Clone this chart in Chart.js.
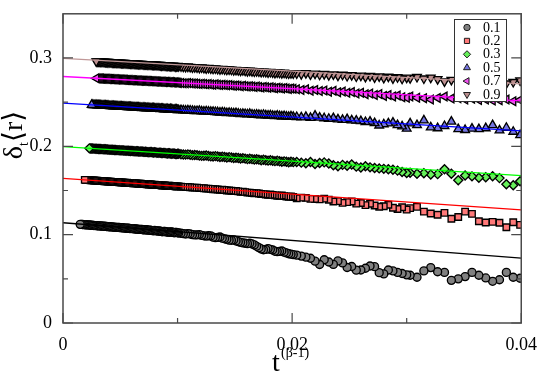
<!DOCTYPE html>
<html><head><meta charset="utf-8">
<script src="https://cdn.jsdelivr.net/npm/chart.js@4.4.0/dist/chart.umd.min.js"></script>
<style>html,body{margin:0;padding:0;background:#fff;}canvas{display:block;}</style>
</head><body>
<canvas id="c" width="540" height="373"></canvas>
<script>
// ---- data ----
const xs = [
0.0015,0.0016,0.0017,0.0018,0.0019,0.0020,0.0021,0.0022,0.0023,0.0024,0.0025,0.0026,0.0027,0.0028,0.0029,0.0030,
0.0031,0.0032,0.0033,0.0034,0.0035,0.0036,0.0037,0.0038,0.0039,0.0040,0.0041,0.0042,0.0043,0.0044,0.0045,0.0046,
0.0047,0.0048,0.0049,0.0050,0.0051,0.0052,0.0053,0.0054,0.0055,0.0056,0.0057,0.0058,0.0059,0.0060,0.0061,0.0062,
0.0063,0.0064,0.0065,0.0066,0.0067,0.0068,0.0069,0.0070,0.0071,0.0072,0.0073,0.0074,0.0075,0.0076,0.0077,0.0078,
0.0079,0.0080,0.0081,0.0082,0.0083,0.0084,0.0085,0.0086,0.0087,0.0088,0.0089,0.0090,0.0091,0.0092,0.0093,0.0094,
0.0095,0.0096,0.0097,0.0098,0.0099,0.0100,0.0101,
0.0103,0.0105,0.0107,0.0109,0.0111,0.0113,0.0115,0.0117,0.0119,0.0121,0.0123,0.0125,0.0127,0.0129,0.0131,0.0133,
0.0135,0.0137,0.0139,0.0141,0.0143,0.0145,0.0147,0.0149,0.0151,0.0153,0.0155,0.0157,0.0159,0.0161,0.0163,0.0165,
0.0167,0.0169,0.0171,0.0173,0.0175,0.0177,0.0179,0.0181,0.0183,0.0185,0.0187,0.0189,0.0191,0.0193,0.0195,0.0197,
0.0199,0.0201,
0.0204,0.0208,0.0212,0.0216,0.0220,0.0224,0.0228,0.0232,0.0236,0.0240,0.0244,0.0248,0.0252,0.0256,0.0260,0.0264,
0.0268,0.0272,0.0276,0.0280,0.0284,0.0288,0.0292,0.0296,0.0300,
0.0303,0.0309,0.0315,0.0321,0.0327,0.0333,0.0339,0.0345,0.0351,0.0357,0.0363,0.0369,0.0375,0.0381,0.0387,0.0393,0.0399
];
const seriesLabels = ['0.1','0.2','0.3','0.5','0.7','0.9'];
const startIdx = [0,4,8,10,14,14];
const y01 = [
0.1117,0.1116,0.1115,0.1114,0.1113,0.1111,0.1110,0.1110,0.1109,0.1107,0.1106,0.1105,0.1104,0.1103,0.1102,0.1101,
0.1100,0.1099,0.1098,0.1096,0.1095,0.1095,0.1094,0.1092,0.1091,0.1090,0.1089,0.1088,0.1087,0.1086,0.1085,0.1083,
0.1082,0.1082,0.1081,0.1079,0.1078,0.1078,0.1077,0.1074,0.1073,0.1073,0.1072,0.1070,0.1069,0.1069,0.1068,0.1065,
0.1064,0.1064,0.1063,0.1060,0.1059,0.1059,0.1058,0.1055,0.1054,0.1056,0.1055,0.1051,0.1050,0.1050,0.1049,0.1045,
0.1044,0.1047,0.1046,0.1042,0.1040,0.1041,0.1039,0.1035,0.1033,0.1037,0.1036,0.1032,0.1030,0.1029,0.1027,0.1030,
0.1031,0.1025,0.1022,0.1024,0.1025,0.1021,0.1019,
0.1016,0.1011,0.1008,0.1011,0.1007,0.1000,0.0997,0.0998,0.1001,0.0992,0.0987,0.0984,0.0988,0.0986,0.0972,0.0967,
0.0969,0.0973,0.0960,0.0953,0.0947,0.0938,0.0937,0.0941,0.0929,0.0921,0.0913,0.0907,0.0903,0.0898,0.0903,0.0895,
0.0884,0.0868,0.0853,0.0838,0.0829,0.0833,0.0842,0.0834,0.0826,0.0812,0.0808,0.0811,0.0815,0.0802,0.0793,0.0784,
0.0779,0.0774,
0.0768,0.0757,0.0745,0.0733,0.0700,0.0662,0.0716,0.0690,0.0663,0.0703,0.0680,0.0628,0.0640,0.0598,0.0600,0.0620,
0.0645,0.0638,0.0570,0.0556,0.0600,0.0590,0.0573,0.0560,0.0545,
0.0540,0.0518,0.0590,0.0627,0.0580,0.0573,0.0483,0.0500,0.0525,0.0573,0.0540,0.0510,0.0472,0.0490,0.0573,0.0518,0.0507
];
const y02 = [
0.1620,0.1619,0.1618,0.1617,0.1617,0.1615,0.1614,0.1614,0.1613,0.1612,0.1611,0.1610,0.1609,0.1608,0.1607,0.1607,
0.1606,0.1604,0.1603,0.1603,0.1602,0.1601,0.1600,0.1599,0.1598,0.1597,0.1596,0.1596,0.1594,0.1594,0.1593,0.1591,
0.1590,0.1591,0.1589,0.1587,0.1586,0.1587,0.1586,0.1584,0.1583,0.1584,0.1582,0.1580,0.1580,0.1580,0.1577,0.1576,
0.1577,0.1576,0.1573,0.1572,0.1573,0.1572,0.1570,0.1569,0.1568,0.1569,0.1568,0.1565,0.1564,0.1566,0.1564,0.1561,
0.1560,0.1562,0.1561,0.1557,0.1556,0.1558,0.1557,0.1553,0.1552,0.1555,0.1554,0.1550,0.1549,0.1550,0.1549,0.1546,
0.1545,0.1547,0.1546,
0.1544,0.1541,0.1539,0.1539,0.1537,0.1533,0.1533,0.1532,0.1527,0.1527,0.1525,0.1521,0.1521,0.1518,0.1514,0.1514,
0.1511,0.1507,0.1508,0.1506,0.1500,0.1500,0.1497,0.1492,0.1494,0.1490,0.1484,0.1486,0.1482,0.1476,0.1476,0.1472,
0.1468,0.1470,0.1466,0.1460,0.1459,0.1455,0.1450,0.1454,0.1450,0.1444,0.1441,0.1440,0.1443,0.1436,0.1431,0.1429,
0.1432,0.1426,
0.1412,0.1420,0.1416,0.1405,0.1404,0.1400,0.1408,0.1395,0.1375,0.1380,0.1360,0.1368,0.1375,0.1352,0.1358,0.1335,
0.1350,0.1330,0.1316,0.1322,0.1338,0.1305,0.1290,0.1310,0.1283,
0.1300,0.1315,0.1260,0.1240,0.1225,0.1247,0.1180,0.1200,0.1261,0.1235,0.1152,0.1138,0.1145,0.1135,0.1084,0.1140,0.1110
];
const y03 = [
0.1977,0.1976,0.1975,0.1975,0.1974,0.1973,0.1972,0.1971,0.1970,0.1970,0.1969,0.1968,0.1967,0.1967,0.1966,0.1965,
0.1964,0.1963,0.1962,0.1962,0.1961,0.1960,0.1959,0.1958,0.1957,0.1957,0.1956,0.1954,0.1954,0.1954,0.1953,0.1951,
0.1950,0.1951,0.1950,0.1948,0.1947,0.1948,0.1947,0.1944,0.1943,0.1945,0.1944,0.1941,0.1940,0.1942,0.1941,0.1938,
0.1937,0.1938,0.1937,0.1934,0.1933,0.1936,0.1935,0.1931,0.1930,0.1932,0.1931,0.1927,0.1926,0.1929,0.1928,0.1924,
0.1923,0.1926,0.1925,0.1920,0.1919,0.1922,0.1921,0.1917,0.1916,0.1919,0.1918,0.1913,0.1912,0.1916,0.1915,
0.1911,0.1907,0.1906,0.1909,0.1905,0.1900,0.1902,0.1900,0.1895,0.1892,0.1894,0.1896,0.1890,0.1886,0.1885,0.1889,
0.1884,0.1879,0.1882,0.1879,0.1873,0.1878,0.1874,0.1868,0.1871,0.1867,0.1862,0.1866,0.1861,0.1855,0.1860,0.1855,
0.1850,0.1853,0.1849,0.1843,0.1848,0.1843,0.1838,0.1842,0.1836,0.1832,0.1836,0.1831,0.1826,0.1830,0.1826,0.1820,
0.1825,0.1821,
0.1823,0.1815,0.1808,0.1823,0.1800,0.1812,0.1818,0.1805,0.1786,0.1775,0.1790,0.1780,0.1795,0.1770,0.1760,0.1775,
0.1762,0.1755,0.1750,0.1745,0.1740,0.1735,0.1725,0.1710,0.1698,
0.1700,0.1690,0.1695,0.1680,0.1685,0.1740,0.1690,0.1616,0.1670,0.1660,0.1645,0.1650,0.1662,0.1640,0.1570,0.1560,0.1605
];
const y05 = [
0.2469,0.2468,0.2467,0.2467,0.2466,0.2465,0.2464,0.2463,0.2463,0.2462,0.2461,0.2460,0.2460,0.2459,0.2458,0.2457,
0.2456,0.2456,0.2455,0.2454,0.2453,0.2453,0.2452,0.2451,0.2450,0.2450,0.2449,0.2448,0.2447,0.2447,0.2446,0.2445,
0.2444,0.2444,0.2443,0.2442,0.2441,0.2441,0.2439,0.2439,0.2438,0.2438,0.2436,0.2435,0.2434,0.2435,0.2434,0.2432,
0.2431,0.2433,0.2432,0.2429,0.2428,0.2430,0.2429,0.2426,0.2425,0.2428,0.2427,0.2423,0.2422,0.2425,0.2424,0.2420,
0.2419,0.2422,0.2421,0.2417,0.2416,0.2420,0.2419,0.2414,0.2413,0.2417,0.2416,0.2411,0.2410,
0.2410,0.2406,0.2404,0.2407,0.2405,0.2401,0.2399,0.2400,0.2402,0.2396,0.2393,0.2396,0.2392,0.2389,0.2390,0.2388,
0.2386,0.2381,0.2385,0.2381,0.2376,0.2378,0.2375,0.2373,0.2376,0.2370,0.2366,0.2368,0.2366,0.2363,0.2367,0.2360,
0.2356,0.2359,0.2355,0.2352,0.2357,0.2351,0.2347,0.2350,0.2346,0.2343,0.2348,0.2342,0.2338,0.2342,0.2337,0.2333,
0.2338,0.2334,
0.2332,0.2328,0.2334,0.2322,0.2348,0.2325,0.2318,0.2312,0.2320,0.2305,0.2300,0.2308,0.2293,0.2290,0.2285,0.2275,
0.2280,0.2262,0.2236,0.2250,0.2260,0.2268,0.2240,0.2225,0.2200,
0.2260,0.2240,0.2293,0.2215,0.2205,0.2230,0.2280,0.2195,0.2185,0.2200,0.2195,0.2205,0.2240,0.2180,0.2210,0.2165,0.2127
];
const y07 = [
0.2770,0.2769,0.2768,0.2768,0.2767,0.2766,0.2766,0.2765,0.2764,0.2764,0.2763,0.2762,0.2762,0.2761,0.2760,0.2760,
0.2759,0.2758,0.2757,0.2757,0.2756,0.2755,0.2755,0.2754,0.2753,0.2753,0.2752,0.2751,0.2750,0.2750,0.2749,0.2748,
0.2748,0.2747,0.2746,0.2746,0.2745,0.2744,0.2743,0.2743,0.2742,0.2741,0.2741,0.2740,0.2739,0.2738,0.2738,0.2737,
0.2736,0.2737,0.2736,0.2734,0.2733,0.2735,0.2734,0.2731,0.2730,0.2732,0.2731,0.2728,0.2727,0.2730,0.2729,0.2725,
0.2724,0.2727,0.2726,0.2722,0.2721,0.2724,0.2723,0.2719,0.2718,
0.2718,0.2714,0.2713,0.2716,0.2713,0.2710,0.2712,0.2709,0.2705,0.2708,0.2706,0.2702,0.2705,0.2701,0.2698,0.2702,
0.2698,0.2694,0.2697,0.2694,0.2690,0.2694,0.2689,0.2685,0.2689,0.2685,0.2680,0.2686,0.2681,0.2676,0.2680,0.2676,
0.2672,0.2677,0.2672,0.2667,0.2672,0.2668,0.2663,0.2668,0.2663,0.2658,0.2664,0.2659,0.2655,0.2660,0.2655,0.2650,
0.2655,0.2651,
0.2645,0.2638,0.2645,0.2630,0.2638,0.2625,0.2632,0.2618,0.2628,0.2612,0.2620,0.2605,0.2614,0.2598,0.2606,0.2588,
0.2598,0.2580,0.2592,0.2570,0.2582,0.2565,0.2576,0.2555,0.2550,
0.2565,0.2550,0.2545,0.2529,0.2548,0.2565,0.2540,0.2545,0.2530,0.2538,0.2525,0.2530,0.2518,0.2522,0.2530,0.2510,0.2525
];
const y09 = [
0.2962,0.2961,0.2960,0.2960,0.2959,0.2958,0.2957,0.2957,0.2956,0.2955,0.2954,0.2954,0.2953,0.2952,0.2951,0.2951,
0.2950,0.2949,0.2948,0.2948,0.2947,0.2946,0.2945,0.2945,0.2944,0.2943,0.2942,0.2942,0.2941,0.2940,0.2939,0.2939,
0.2938,0.2937,0.2936,0.2936,0.2935,0.2934,0.2933,0.2933,0.2932,0.2931,0.2930,0.2930,0.2929,0.2928,0.2927,0.2927,
0.2926,0.2925,0.2924,0.2925,0.2923,0.2921,0.2921,0.2922,0.2920,0.2917,0.2918,0.2919,0.2917,0.2914,0.2914,0.2916,
0.2914,0.2910,0.2910,0.2913,0.2911,0.2906,0.2907,0.2909,0.2908,
0.2906,0.2902,0.2900,0.2903,0.2899,0.2894,0.2897,0.2894,0.2889,0.2892,0.2888,0.2883,0.2887,0.2883,0.2878,0.2881,
0.2877,0.2872,0.2876,0.2872,0.2867,0.2871,0.2867,0.2862,0.2866,0.2862,0.2857,0.2861,0.2857,0.2852,0.2856,0.2852,
0.2847,0.2851,0.2847,0.2842,0.2846,0.2842,0.2837,0.2841,0.2837,0.2832,0.2837,0.2833,0.2828,0.2833,0.2829,0.2824,
0.2829,0.2826,
0.2825,0.2818,0.2828,0.2815,0.2822,0.2810,0.2818,0.2805,0.2815,0.2800,0.2810,0.2796,0.2806,0.2790,0.2800,0.2786,
0.2796,0.2780,0.2792,0.2775,0.2788,0.2770,0.2782,0.2765,0.2778,
0.2772,0.2785,0.2768,0.2778,0.2760,0.2735,0.2752,0.2740,0.2750,0.2735,0.2745,0.2730,0.2742,0.2725,0.2711,0.2728,0.2746
];
const seriesValues = [y01, y02, y03, y05, y07, y09];
// straight fit lines: value at x = 0 and at x = 0.04
const fitX = [0, 0.04];
const fitStart = [0.1135, 0.1638, 0.1997, 0.2490, 0.2790, 0.2995];
const fitEnd   = [0.0735, 0.1280, 0.1669, 0.2174, 0.2514, 0.2707];
const xTicks = [0, 0.02, 0.04];
const xMinor = [0.01, 0.03];
const yTicks = [0, 0.1, 0.2, 0.3];
const yMinor = [0.05, 0.15, 0.25];

// ---- styles ----
const styles = [
  {shape:'circle',   rot:0,   r:4.0, fill:'#808080', line:'#000000'},
  {shape:'rect',     rot:0,   r:4.6, fill:'#ff7878', line:'#ff0000'},
  {shape:'rectRot',  rot:0,   r:4.5, fill:'#66f05a', line:'#00ff00'},
  {shape:'triangle', rot:0,   r:5.0, fill:'#7474e0', line:'#0000ff'},
  {shape:'triangle', rot:-90, r:5.0, fill:'#f050f0', line:'#ff00ff'},
  {shape:'triangle', rot:180, r:5.0, fill:'#bc8f8f', line:'#c09898'}
];
const SERIF = '"Liberation Serif", "Times New Roman", Times, serif';
const MATH = '"Liberation Serif", "DejaVu Serif", "DejaVu Sans", serif';

const datasets = [];
seriesValues.forEach((vals, k) => {
  const st = styles[k];
  const pts = vals.map((v, i) => ({x: xs[startIdx[k] + i], y: v})).filter(p => p.x !== undefined);
  pts.reverse(); // drawn from large x to small x, like the time series
  datasets.push({
    type: 'scatter',
    label: seriesLabels[k],
    data: pts,
    showLine: false,
    pointStyle: st.shape,
    pointRotation: st.rot,
    pointRadius: st.r,
    pointHoverRadius: st.r,
    backgroundColor: st.fill,
    borderColor: '#000000',
    borderWidth: 1.35,
    order: 2
  });
});
seriesValues.forEach((vals, k) => {
  datasets.push({
    type: 'line',
    label: 'fit ' + seriesLabels[k],
    data: [{x: fitX[0], y: fitStart[k]}, {x: fitX[1], y: fitEnd[k]}],
    borderColor: styles[k].line,
    borderWidth: 1.3,
    pointRadius: 0,
    fill: false,
    order: 1
  });
});

const framePlugin = {
  id: 'frame',
  afterDatasetsDraw(chart) {
    const {ctx, chartArea: a, scales: {x, y}} = chart;
    ctx.save();
    ctx.strokeStyle = '#4a4a4a';
    ctx.lineWidth = 1.5;
    ctx.strokeRect(a.left, a.top, a.right - a.left, a.bottom - a.top);
    ctx.lineWidth = 1.2;
    ctx.beginPath();
    const tx = (v, len) => { const p = x.getPixelForValue(v);
      ctx.moveTo(p, a.bottom); ctx.lineTo(p, a.bottom - len);
      ctx.moveTo(p, a.top); ctx.lineTo(p, a.top + len); };
    const ty = (v, len) => { const p = y.getPixelForValue(v);
      ctx.moveTo(a.left, p); ctx.lineTo(a.left + len, p);
      ctx.moveTo(a.right, p); ctx.lineTo(a.right - len, p); };
    xTicks.forEach(v => tx(v, 10)); xMinor.forEach(v => tx(v, 5));
    yTicks.forEach(v => ty(v, 10)); yMinor.forEach(v => ty(v, 5));
    ctx.stroke();
    ctx.restore();
  }
};

const decorPlugin = {
  id: 'decor',
  afterDraw(chart) {
    const ctx = chart.ctx;
    ctx.save();
    // legend
    const bx = 454, by = 19, bw = 52, bh = 82;
    ctx.fillStyle = '#fff';
    ctx.fillRect(bx, by, bw, bh);
    ctx.strokeStyle = '#333';
    ctx.lineWidth = 1;
    ctx.strokeRect(bx + 0.5, by + 0.5, bw, bh);
    seriesLabels.forEach((lab, k) => {
      const st = styles[k];
      const cy = 27.5 + k * 13.4;
      ctx.fillStyle = st.fill;
      ctx.strokeStyle = '#1e1e1e';
      ctx.lineWidth = 1;
      Chart.helpers.drawPoint(ctx, {pointStyle: st.shape, rotation: st.rot, radius: st.r * 0.8, borderWidth: 1}, 467, cy);
      ctx.fillStyle = '#000';
      ctx.font = '14px ' + SERIF;
      ctx.textBaseline = 'middle';
      ctx.textAlign = 'left';
      ctx.fillText(lab, 483, cy + 0.5);
    });
    // x title
    ctx.fillStyle = '#000';
    ctx.textBaseline = 'alphabetic';
    ctx.textAlign = 'left';
    ctx.font = '28px ' + SERIF;
    ctx.fillText('t', 272, 371);
    ctx.font = '14px ' + MATH;
    ctx.fillText('(β-1)', 281, 357);
    // y title (rotated)
    ctx.translate(22, 0);
    ctx.rotate(-Math.PI / 2);
    ctx.font = '28px ' + MATH;
    const w1 = ctx.measureText('δ').width;
    ctx.font = '14px ' + SERIF;
    const w2 = ctx.measureText('t').width;
    ctx.font = '28px ' + MATH;
    const w3 = ctx.measureText('⟨r⟩').width;
    const total = w1 + w2 + w3;
    let sx = -135 - total / 2;
    ctx.fillText('δ', sx, 0);
    sx += w1;
    ctx.font = '14px ' + SERIF;
    ctx.fillText('t', sx, 6);
    sx += w2;
    ctx.font = '28px ' + MATH;
    ctx.fillText('⟨r⟩', sx, 0);
    ctx.restore();
  }
};

new Chart(document.getElementById('c'), {
  type: 'scatter',
  data: {datasets},
  options: {
    responsive: false,
    animation: false,
    devicePixelRatio: 1,
    layout: {padding: {left: 0, right: 17, top: 1, bottom: 0}},
    plugins: {legend: {display: false}, tooltip: {enabled: false}},
    scales: {
      x: {
        type: 'linear', min: 0, max: 0.04,
        afterBuildTicks: s => { s.ticks = xTicks.map(v => ({value: v})); },
        afterFit: s => { s.height = 50; },
        grid: {display: false}, border: {display: false},
        ticks: {color: '#000', padding: 3, maxRotation: 0, font: {family: SERIF, size: 18},
          callback: v => v === 0 ? '0' : String(+v.toFixed(2))}
      },
      y: {
        type: 'linear', min: 0, max: 0.35,
        afterBuildTicks: s => { s.ticks = yTicks.map(v => ({value: v})); },
        afterFit: s => { s.width = 63; },
        grid: {display: false}, border: {display: false},
        ticks: {color: '#000', padding: 3, font: {family: SERIF, size: 18},
          callback: v => v === 0 ? '0' : String(+v.toFixed(1))}
      }
    }
  },
  plugins: [framePlugin, decorPlugin]
});
</script>
</body></html>
